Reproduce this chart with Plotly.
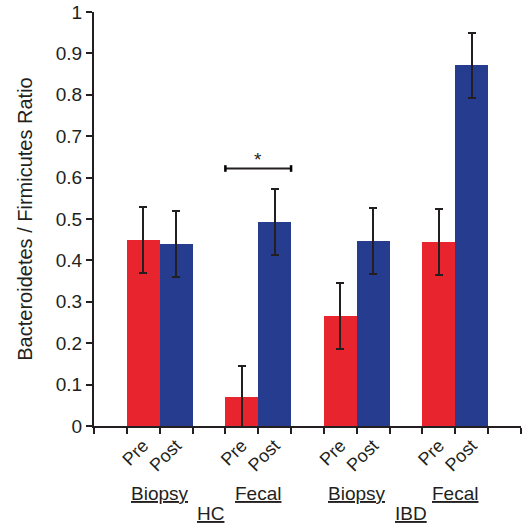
import plotly.graph_objects as go

# ---- data ----
groups = ["Biopsy", "Fecal", "Biopsy", "Fecal"]
cohorts = ["HC", "IBD"]
pre_labels = ["Pre"] * 4
post_labels = ["Post"] * 4
pre_values = [0.45, 0.07, 0.265, 0.445]
post_values = [0.44, 0.492, 0.447, 0.871]
pre_err = [0.08, 0.075, 0.08, 0.08]
post_err = [0.08, 0.08, 0.08, 0.078]
sig_y = 0.622
sig_label = "*"
y_ticks = [0, 0.1, 0.2, 0.3, 0.4, 0.5, 0.6, 0.7, 0.8, 0.9, 1]
y_ticktext = ["0", "0.1", "0.2", "0.3", "0.4", "0.5", "0.6", "0.7", "0.8", "0.9", "1"]

RED = "#E8242F"
BLUE = "#263C8F"
DARK = "#231F20"
FONT = "Liberation Sans, Arial, sans-serif"

# slot layout: empty slot, Pre, Post, empty, Pre, Post, ...
pre_x = [1.5 + 3 * i for i in range(len(groups))]
post_x = [2.5 + 3 * i for i in range(len(groups))]
n_slots = 3 * len(groups) + 1

fig = go.Figure()
fig.add_trace(go.Bar(
    x=pre_x, y=pre_values, width=1.0, marker=dict(color=RED, line=dict(width=0)),
    error_y=dict(type="data", array=pre_err, color=DARK, thickness=2, width=4),
    showlegend=False, hoverinfo="skip"))
fig.add_trace(go.Bar(
    x=post_x, y=post_values, width=1.0, marker=dict(color=BLUE, line=dict(width=0)),
    error_y=dict(type="data", array=post_err, color=DARK, thickness=2, width=4),
    showlegend=False, hoverinfo="skip"))

tickvals = []
ticktext = []
for i in range(len(groups)):
    tickvals += [pre_x[i], post_x[i]]
    ticktext += [pre_labels[i], post_labels[i]]

fig.update_layout(
    width=523, height=525,
    margin=dict(l=94, r=2, t=12, b=99),
    plot_bgcolor="white", paper_bgcolor="white",
    font=dict(family=FONT, color=DARK, size=18),
    bargap=0,
    xaxis=dict(
        range=[0, n_slots], showgrid=False, zeroline=False,
        showline=True, linecolor=DARK, linewidth=2,
        tickmode="array", tickvals=tickvals, ticktext=ticktext,
        tickangle=-45, ticks="", tickfont=dict(size=18, family=FONT, color=DARK),
        minor=dict(tickmode="linear", tick0=0, dtick=1, ticks="outside",
                   ticklen=6, tickwidth=2, tickcolor=DARK, showgrid=False),
    ),
    yaxis=dict(
        range=[0, 1], showgrid=False, zeroline=False,
        showline=True, linecolor=DARK, linewidth=2,
        tickmode="array", tickvals=y_ticks, ticktext=y_ticktext,
        ticks="outside", ticklen=6, tickwidth=2, tickcolor=DARK,
        tickfont=dict(size=19, family=FONT, color=DARK),
        title=dict(text="Bacteroidetes / Firmicutes Ratio",
                   font=dict(size=20, family=FONT, color=DARK), standoff=18),
    ),
)

# significance bracket between HC Fecal Pre and Post
sx0 = pre_x[1] - 0.5
sx1 = post_x[1] + 0.5
fig.add_shape(type="line", x0=sx0, x1=sx1, y0=sig_y, y1=sig_y, xref="x", yref="y",
              line=dict(color=DARK, width=1.8))
for sx in (sx0, sx1):
    fig.add_shape(type="line", x0=sx, x1=sx, y0=sig_y - 0.008, y1=sig_y + 0.008,
                  xref="x", yref="y", line=dict(color="black", width=2.5))
fig.add_annotation(x=(sx0 + sx1) / 2, y=sig_y, text=sig_label, showarrow=False,
                   yanchor="middle", yshift=9, font=dict(size=19, family=FONT, color=DARK))

# group labels
for i, g in enumerate(groups):
    fig.add_annotation(x=(pre_x[i] + post_x[i]) / 2, y=0, xref="x", yref="paper",
                       text="<u>%s</u>" % g, showarrow=False, yanchor="middle",
                       yshift=-67, font=dict(size=19, family=FONT, color=DARK))
# cohort labels
cohort_x = [(pre_x[0] + post_x[1]) / 2 + 0.05, (pre_x[2] + post_x[3]) / 2 + 0.15]
for cx, c in zip(cohort_x, cohorts):
    fig.add_annotation(x=cx, y=0, xref="x", yref="paper",
                       text="<u>%s</u>" % c, showarrow=False, yanchor="middle",
                       yshift=-87, font=dict(size=19, family=FONT, color=DARK))

fig.write_html("out.html", config={"displayModeBar": False},
               post_script="document.body.style.margin='0';document.body.style.padding='0';"
                           "document.body.style.overflow='hidden';")
